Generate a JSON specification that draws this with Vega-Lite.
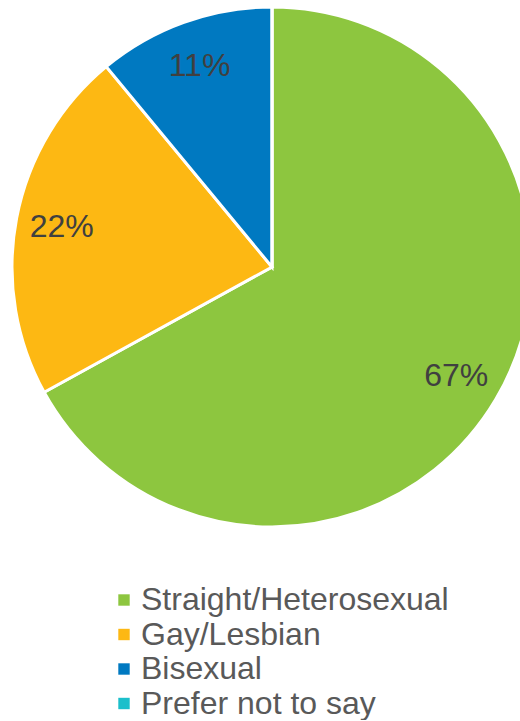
{
  "$schema": "https://vega.github.io/schema/vega-lite/v6.json",
  "width": 544,
  "height": 534,
  "padding": 0,
  "autosize": {"type": "pad"},
  "background": "white",
  "config": {"view": {"stroke": null}, "font": "Liberation Sans"},
  "data": {
    "values": [
      {"category": "Straight/Heterosexual", "value": 67, "label": "67%", "idx": 1},
      {"category": "Gay/Lesbian", "value": 22, "label": "22%", "idx": 2},
      {"category": "Bisexual", "value": 11, "label": "11%", "idx": 3},
      {"category": "Prefer not to say", "value": 0, "label": "0%", "idx": 4}
    ]
  },
  "encoding": {
    "theta": {"field": "value", "type": "quantitative", "stack": true},
    "order": {"field": "idx", "type": "quantitative"},
    "color": {
      "field": "category",
      "type": "nominal",
      "sort": null,
      "scale": {
        "domain": ["Straight/Heterosexual", "Gay/Lesbian", "Bisexual", "Prefer not to say"],
        "range": ["#8DC63F", "#FDB813", "#0079C1", "#1BBFCB"]
      },
      "legend": {
        "title": null,
        "orient": "none",
        "legendX": 108,
        "legendY": 584,
        "symbolType": "square",
        "symbolSize": 130,
        "symbolStrokeWidth": 0,
        "labelFontSize": 32,
        "labelColor": "#595959",
        "labelOffset": 1,
        "rowPadding": 2.5,
        "labelLimit": 500
      }
    }
  },
  "layer": [
    {
      "mark": {"type": "arc", "outerRadius": 260, "stroke": "white", "strokeWidth": 3}
    },
    {
      "transform": [{"filter": "datum.value > 0"}],
      "mark": {"type": "text", "radius": 214, "fontSize": 32, "fill": "#404040"},
      "encoding": {
        "text": {"field": "label", "type": "nominal"},
        "color": {"value": "#404040"}
      }
    }
  ]
}
